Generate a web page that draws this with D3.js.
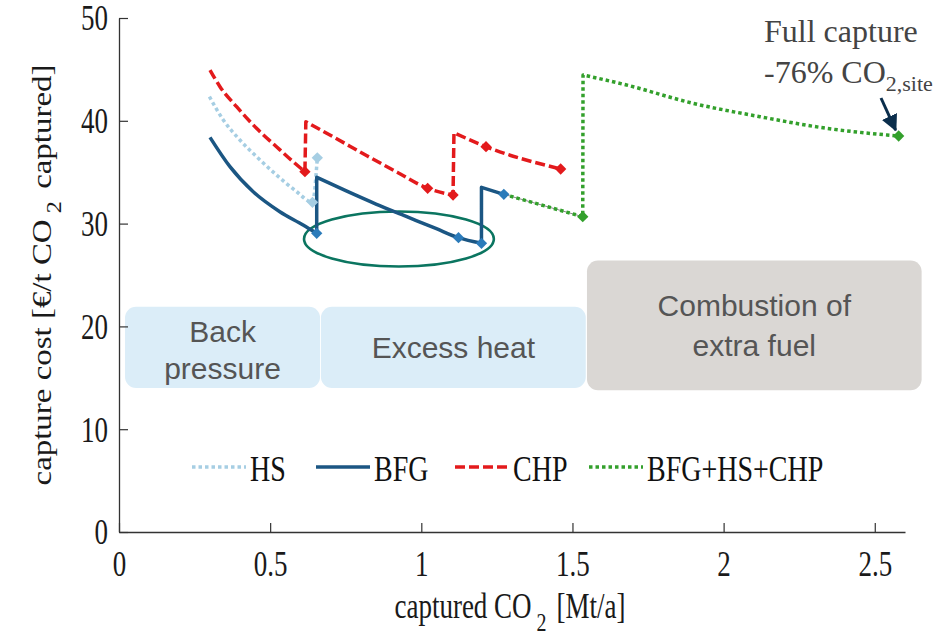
<!DOCTYPE html>
<html>
<head>
<meta charset="utf-8">
<script src="https://cdn.jsdelivr.net/npm/d3@7"></script>
<style>
  body { margin: 0; background: #fff; }
  svg { display: block; }
</style>
</head>
<body>
<script>
// series values (x: Mt/a captured, y: €/t)
const hsX  = [0.299, 0.345, 0.400, 0.455, 0.521, 0.588, 0.640, 0.656];
const hsY  = [42.35, 40.08, 38.13, 36.51, 34.73, 33.10, 32.07, 36.40];
const hsMarks = [6, 7];

const bfgX = [0.301, 0.367, 0.444, 0.532, 0.609, 0.654, 0.654, 0.75, 0.85, 0.95, 1.05, 1.123, 1.199, 1.199, 1.273];
const bfgY = [38.39, 35.54, 33.10, 31.16, 29.86, 29.05, 34.50, 33.2, 31.9, 30.7, 29.5, 28.63, 28.08, 33.53, 32.85];
const bfgMarks = [5, 11, 12, 14];

const chpX = [0.301, 0.334, 0.389, 0.455, 0.521, 0.576, 0.615, 0.618, 0.72, 0.82, 0.92, 1.021, 1.105, 1.108, 1.214, 1.461];
const chpY = [44.94, 43.32, 41.37, 39.27, 37.48, 36.02, 35.05, 39.91, 38.25, 36.6, 35.0, 33.43, 32.78, 38.84, 37.48, 35.31];
const chpMarks = [6, 11, 12, 14, 15];

const allX = [1.273, 1.534, 1.535, 1.679, 1.899, 2.120, 2.340, 2.579];
const allY = [32.85, 30.67, 44.46, 43.48, 41.70, 40.40, 39.27, 38.52];
const allMarks = [1, 7];

const xTicks = [0, 0.5, 1, 1.5, 2, 2.5];
const yTicks = [0, 10, 20, 30, 40, 50];

const legendNames = ["HS", "BFG", "CHP", "BFG+HS+CHP"];

// shaded regions: [x0, x1, y0, y1] in data units
const regionNames = [["Back", "pressure"], ["Excess heat"], ["Combustion of", "extra fuel"]];
const regionX0 = [0.02, 0.668, 1.548];
const regionX1 = [0.665, 1.544, 2.655];
const regionY0 = [14.0, 14.0, 13.8];
const regionY1 = [21.9, 21.9, 26.4];

// highlighted ellipse: centre and radii in data units
const ellipseC = [0.926, 28.5];
const ellipseR = [0.314, 2.675];

const W = 947, H = 636;
const serif = "'Liberation Serif', 'Times New Roman', serif";
const sans = "'Liberation Sans', Arial, sans-serif";
const stretch = 1.3;  // the reference text is drawn taller than wide

const svg = d3.select("body").append("svg").attr("width", W).attr("height", H);

const x = d3.scaleLinear().domain([0, 2.6]).range([119, 905]);
const y = d3.scaleLinear().domain([0, 50]).range([532, 18]);

// region boxes
const regionFill = ["#dbedf8", "#dbedf8", "#dad7d4"];
regionNames.forEach((lines, i) => {
  const x0 = x(regionX0[i]), x1 = x(regionX1[i]);
  const y0 = y(regionY1[i]), y1 = y(regionY0[i]);
  svg.append("rect")
    .attr("x", x0).attr("y", y0)
    .attr("width", x1 - x0).attr("height", y1 - y0)
    .attr("rx", 11).attr("ry", 11)
    .attr("fill", regionFill[i]);
  const cx = (x0 + x1) / 2, cy = (y0 + y1) / 2 + (i === 0 ? 3 : 0);
  const lh = i === 2 ? 40 : 37;
  lines.forEach((t, j) => {
    svg.append("text")
      .attr("x", cx)
      .attr("y", cy + (j - (lines.length - 1) / 2) * lh)
      .attr("dy", "0.35em")
      .attr("text-anchor", "middle")
      .attr("font-family", sans)
      .attr("font-size", 30)
      .attr("fill", "#555")
      .text(t);
  });
});

// axes
const xAxis = svg.append("g").attr("transform", `translate(0,${y(0)})`)
  .call(d3.axisBottom(x).tickValues(xTicks).tickSizeInner(-9).tickSizeOuter(0)
    .tickFormat(d3.format("~g")));
const yAxis = svg.append("g").attr("transform", `translate(${x(0)},0)`)
  .call(d3.axisLeft(y).tickValues(yTicks).tickSizeInner(-9).tickSizeOuter(0));

[xAxis, yAxis].forEach(g => {
  g.select(".domain").attr("stroke", "#333").attr("stroke-width", 1.3);
  g.selectAll(".tick line").attr("stroke", "#333").attr("stroke-width", 1.2);
  g.selectAll(".tick text")
    .attr("font-family", serif).attr("font-size", 27).attr("fill", "#1a1a1a");
});
xAxis.selectAll(".tick text")
  .attr("y", 0).attr("dy", "0.34em")
  .attr("transform", `translate(0,32) scale(1,${stretch})`);
yAxis.selectAll(".tick text")
  .attr("x", 0).attr("dy", "0.34em").attr("text-anchor", "end")
  .attr("transform", `translate(-11,0) scale(1,${stretch})`);

// axis labels
const yl = svg.append("text")
  .attr("transform", `translate(42,${(y(0) + y(50)) / 2}) rotate(-90) scale(1.22,1)`)
  .attr("text-anchor", "middle").attr("dy", "0.34em")
  .attr("font-family", serif).attr("font-size", 27).attr("fill", "#1a1a1a");
yl.append("tspan").text("capture cost [€/t CO");
yl.append("tspan").attr("dx", 5).attr("dy", 10).attr("font-size", 20).text("2");
yl.append("tspan").attr("dx", 10).attr("dy", -10).text("captured]");

const xl = svg.append("text")
  .attr("transform", `translate(${(x(0) + x(2.6)) / 2 - 2},606) scale(1,${stretch})`)
  .attr("text-anchor", "middle").attr("dy", "0.34em")
  .attr("font-family", serif).attr("font-size", 27).attr("fill", "#1a1a1a");
xl.append("tspan").text("captured CO");
xl.append("tspan").attr("dx", 5).attr("dy", 10).attr("font-size", 20).text("2");
xl.append("tspan").attr("dx", 10).attr("dy", -10).text("[Mt/a]");

// ellipse
svg.append("ellipse")
  .attr("cx", x(ellipseC[0])).attr("cy", y(ellipseC[1]))
  .attr("rx", x(ellipseC[0] + ellipseR[0]) - x(ellipseC[0]))
  .attr("ry", y(ellipseC[1]) - y(ellipseC[1] + ellipseR[1]))
  .attr("fill", "none").attr("stroke", "#0b7560").attr("stroke-width", 2.6);

// lines: smooth pieces joined by straight jumps
const lineGen = d3.line().x(d => x(d[0])).y(d => y(d[1])).curve(d3.curveMonotoneX);
function seriesPath(xs, ys) {
  const pieces = [];
  let cur = [];
  xs.forEach((v, i) => {
    if (i > 0 && v - xs[i - 1] < 0.01) { pieces.push(cur); cur = []; }
    cur.push([v, ys[i]]);
  });
  pieces.push(cur);
  return pieces.map((p, k) => {
    const s = lineGen(p);
    return k === 0 ? s : "L" + s.slice(1);
  }).join("");
}

const series = [
  {xs: hsX, ys: hsY, marks: hsMarks, color: "#a6cee3", mark: "#a6cee3", dash: "3.5,3", w: 3.5},
  {xs: bfgX, ys: bfgY, marks: bfgMarks, color: "#1b5683", mark: "#2b7bba", dash: null, w: 3.5},
  {xs: chpX, ys: chpY, marks: chpMarks, color: "#e31a1c", mark: "#e31a1c", dash: "10,4", w: 3.5},
  {xs: allX, ys: allY, marks: allMarks, color: "#33a02c", mark: "#33a02c", dash: "3.5,3", w: 3.5}
];

// thin grey connector under the first combined segment
svg.append("path")
  .attr("d", d3.line()([[x(allX[0]), y(allY[0])], [x(allX[1]), y(allY[1])]]))
  .attr("stroke", "#888").attr("stroke-width", 1).attr("fill", "none");

series.forEach(s => {
  svg.append("path")
    .attr("d", seriesPath(s.xs, s.ys))
    .attr("fill", "none")
    .attr("stroke", s.color)
    .attr("stroke-width", s.w)
    .attr("stroke-dasharray", s.dash)
    .attr("stroke-linejoin", "round");
});

const diamond = d3.symbol(d3.symbolSquare, 64);
series.forEach(s => {
  svg.append("g").selectAll("path")
    .data(s.marks)
    .join("path")
    .attr("d", diamond)
    .attr("transform", i => `translate(${x(s.xs[i])},${y(s.ys[i])}) rotate(45)`)
    .attr("fill", s.mark);
});

// legend
const legendX = [192, 316, 455, 589];
const legend = svg.append("g");
series.forEach((s, i) => {
  legend.append("line")
    .attr("x1", legendX[i]).attr("x2", legendX[i] + 54)
    .attr("y1", 467).attr("y2", 467)
    .attr("stroke", s.color).attr("stroke-width", s.w)
    .attr("stroke-dasharray", s.dash);
  legend.append("text")
    .attr("transform", `translate(${legendX[i] + 58},468) scale(1,${stretch})`)
    .attr("dy", "0.35em")
    .attr("font-family", serif).attr("font-size", 28).attr("fill", "#111")
    .text(legendNames[i]);
});

// annotation
svg.append("text")
  .attr("x", 764).attr("y", 42)
  .attr("font-family", serif).attr("font-size", 32).attr("fill", "#444")
  .text("Full capture");
const a2 = svg.append("text")
  .attr("x", 764).attr("y", 83)
  .attr("font-family", serif).attr("font-size", 32).attr("fill", "#444");
a2.append("tspan").text("-76% CO");
a2.append("tspan").attr("dy", 8).attr("font-size", 22).text("2,site");

svg.append("defs").append("marker")
  .attr("id", "arr").attr("viewBox", "0 0 10 10")
  .attr("refX", 9).attr("refY", 5)
  .attr("markerWidth", 5.5).attr("markerHeight", 5.5)
  .attr("orient", "auto")
  .append("path").attr("d", "M0,0L10,5L0,10z").attr("fill", "#0b2e4c");
svg.append("line")
  .attr("x1", 881).attr("y1", 98)
  .attr("x2", x(allX[7]) - 3).attr("y2", y(allY[7]) - 6)
  .attr("stroke", "#0b2e4c").attr("stroke-width", 3)
  .attr("marker-end", "url(#arr)");
</script>
</body>
</html>
